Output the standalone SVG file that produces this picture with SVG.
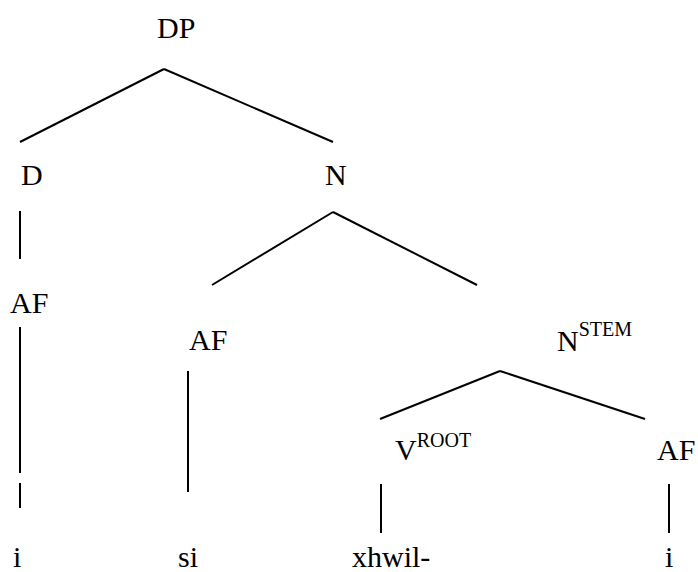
<svg xmlns="http://www.w3.org/2000/svg" width="698" height="572" viewBox="0 0 698 572">
<defs>
<style>
line{stroke:#000;stroke-width:2}
</style>
</defs>
<rect width="698" height="572" fill="#fff"/>
<g id="connectors">
<line x1="164" y1="69" x2="20" y2="142"/>
<line x1="164" y1="69" x2="333" y2="142"/>
<line x1="20" y1="211" x2="20" y2="259"/>
<line x1="333" y1="212" x2="212" y2="285"/>
<line x1="333" y1="212" x2="477" y2="285"/>
<line x1="20" y1="327" x2="20" y2="473"/>
<line x1="20" y1="483" x2="20" y2="508"/>
<line x1="188" y1="371" x2="188" y2="492"/>
<line x1="500" y1="371" x2="380" y2="419"/>
<line x1="500" y1="371" x2="645" y2="419"/>
<line x1="381" y1="484" x2="381" y2="533"/>
<line x1="669" y1="484" x2="669" y2="533"/>
</g>
<g id="nodes" font-family="Liberation Serif" font-size="30" fill="#000">
<g id="n-DP"><text x="157" y="38">DP</text></g>
<g id="n-D"><text x="21" y="185">D</text></g>
<g id="n-N"><text x="325" y="185">N</text></g>
<g id="n-AF1"><text x="10" y="313">AF</text></g>
<g id="n-AF2"><text x="189" y="350">AF</text></g>
<g id="n-NSTEM"><text x="557" y="351">N<tspan font-size="20" dy="-15">STEM</tspan></text></g>
<g id="n-VROOT"><text x="395" y="460">V<tspan font-size="20" dy="-13">ROOT</tspan></text></g>
<g id="n-AF3"><text x="657" y="460">AF</text></g>
<g id="n-i1"><text x="13" y="567">i</text></g>
<g id="n-si"><text x="178" y="567">si</text></g>
<g id="n-xhwil"><text x="352" y="567">xhwil-</text></g>
<g id="n-i2"><text x="665" y="567">i</text></g>
</g>
</svg>
